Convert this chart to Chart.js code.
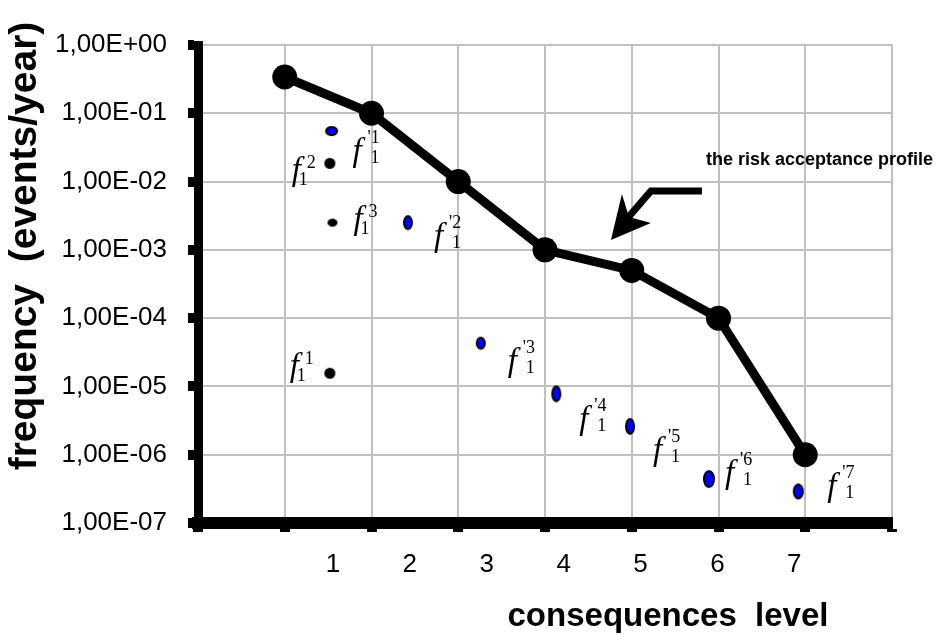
<!DOCTYPE html>
<html lang="en">
<head>
  <meta charset="UTF-8">
  <title>Risk acceptance profile</title>
  <script src="https://cdn.jsdelivr.net/npm/chart.js"></script>
  <style>
    html, body { margin: 0; padding: 0; background: #fff; }
  </style>
</head>
<body>
  <canvas id="riskChart" width="939" height="635"></canvas>

  <script>
    // risk acceptance profile, frequency (events/year) per consequence level
    const levels = [1, 2, 3, 4, 5, 6, 7];
    const profile = [0.34, 0.1, 0.01, 0.001, 0.0005, 0.0001, 0.000001];

    // f1^k frequencies (black dots)
    const fX = [1.52, 1.55, 1.52];
    const fY = [0.0185, 0.0025, 0.0000156];
    const fSup = ['2', '3', '1'];

    // f'1^k frequencies (blue dots)
    const fpX = [1.54, 2.42, 3.26, 4.13, 4.98, 5.89, 6.92];
    const fpY = [0.055, 0.0025, 0.000043, 0.0000078, 0.0000026, 0.00000044, 0.00000029];
    const fpSup = ['1', '2', '3', '4', '5', '6', '7'];

    // axis ticks
    const xLabels = [1, 2, 3, 4, 5, 6, 7];
    const yTicks = [1e-7, 1e-6, 1e-5, 1e-4, 1e-3, 1e-2, 1e-1, 1];
    const yTickText = ['1,00E-07', '1,00E-06', '1,00E-05', '1,00E-04', '1,00E-03', '1,00E-02', '1,00E-01', '1,00E+00'];

    // where the arrow points, in data units
    const arrowAt = { x: 4.76, y: 0.0014 };

    // marker shapes (w, h) and label offsets (px from the dot)
    const fSize = [[11, 11], [10, 8], [11, 11]];
    const fOff = [[-43, 17], [16, 6], [-45, 3]];
    const fpSize = [[13, 10], [10, 15], [10, 13], [10, 17], [10, 17], [12, 18], [11, 16]];
    const fpOff = [[16, 30], [21, 23], [22, 28], [18, 35], [18, 34], [11, 4], [24, 5]];

    const SANS = '"Liberation Sans", Arial, sans-serif';
    const SERIF = '"Liberation Serif", "Times New Roman", serif';
    Chart.defaults.font.family = SANS;
    Chart.defaults.color = '#000';

    function makeDot(w, h, fill, lw) {
      const c = document.createElement('canvas');
      c.width = w + 2; c.height = h + 2;
      const g = c.getContext('2d');
      g.beginPath();
      g.ellipse(c.width / 2, c.height / 2, w / 2 - lw / 2, h / 2 - lw / 2, 0, 0, Math.PI * 2);
      g.fillStyle = fill;
      g.fill();
      if (lw) { g.lineWidth = lw; g.strokeStyle = '#000'; g.stroke(); }
      return c;
    }

    function drawF(ctx, x, y, sup, primed) {
      ctx.fillStyle = '#000';
      ctx.textAlign = 'left';
      ctx.textBaseline = 'alphabetic';
      ctx.font = 'italic 33px ' + SERIF;
      ctx.fillText('f', x + 5, y);
      ctx.font = '18px ' + SERIF;
      if (primed) {
        ctx.fillText("'" + sup, x + 20, y - 18);
        ctx.fillText('1', x + 23, y + 2);
      } else {
        ctx.fillText('1', x + 12, y + 5);
        ctx.fillText(sup, x + 20, y - 12);
      }
    }

    const extras = {
      id: 'extras',
      afterDatasetsDraw(chart) {
        const { ctx, scales } = chart;
        const sx = scales.x, sy = scales.y;
        ctx.save();

        // f labels next to the dots
        fX.forEach((v, i) => {
          const px = sx.getPixelForValue(v), py = sy.getPixelForValue(fY[i]);
          drawF(ctx, px + fOff[i][0], py + fOff[i][1], fSup[i], false);
        });
        fpX.forEach((v, i) => {
          const px = sx.getPixelForValue(v), py = sy.getPixelForValue(fpY[i]);
          drawF(ctx, px + fpOff[i][0], py + fpOff[i][1], fpSup[i], true);
        });

        // arrow + caption
        const tx = sx.getPixelForValue(arrowAt.x), ty = sy.getPixelForValue(arrowAt.y);
        ctx.strokeStyle = '#000';
        ctx.fillStyle = '#000';
        ctx.lineWidth = 7;
        ctx.lineJoin = 'miter';
        ctx.beginPath();
        ctx.moveTo(tx + 91, ty - 49);
        ctx.lineTo(tx + 40, ty - 49);
        ctx.lineTo(tx + 16, ty - 21);
        ctx.stroke();
        ctx.beginPath();
        ctx.moveTo(tx, ty);
        ctx.lineTo(tx + 11, ty - 46);
        ctx.lineTo(tx + 18, ty - 23);
        ctx.lineTo(tx + 40, ty - 17);
        ctx.closePath();
        ctx.fill();

        ctx.font = 'bold 18px ' + SANS;
        ctx.textAlign = 'left';
        ctx.textBaseline = 'alphabetic';
        ctx.fillText('the risk acceptance profile', tx + 95, ty - 75);
        ctx.restore();
      },
      afterDraw(chart) {
        const { ctx } = chart;
        ctx.save();
        ctx.fillStyle = '#000';
        ctx.font = 'bold 33px ' + SANS;
        ctx.textAlign = 'center';
        ctx.textBaseline = 'alphabetic';
        ctx.fillText('consequences  level', 668, 626);

        ctx.translate(25, 246);
        ctx.rotate(-Math.PI / 2);
        ctx.font = 'bold 39px ' + SANS;
        ctx.textBaseline = 'middle';
        ctx.fillText('frequency  (events/year)', 0, 0);
        ctx.restore();
      }
    };

    new Chart(document.getElementById('riskChart'), {
      type: 'scatter',
      data: {
        datasets: [
          {
            label: 'profile',
            data: levels.map((l, i) => ({ x: l, y: profile[i] })),
            showLine: true,
            borderColor: '#000',
            borderWidth: 9,
            backgroundColor: '#000',
            pointRadius: 12.5,
            pointBorderWidth: 0,
            pointBackgroundColor: '#000'
          },
          {
            label: 'f1',
            data: fX.map((v, i) => ({ x: v, y: fY[i] })),
            pointRadius: 6,
            pointStyle: fSize.map(s => makeDot(s[0], s[1], '#000', 0))
          },
          {
            label: "f'1",
            data: fpX.map((v, i) => ({ x: v, y: fpY[i] })),
            pointRadius: 6,
            pointStyle: fpSize.map(s => makeDot(s[0], s[1], '#0000ff', 2))
          }
        ]
      },
      options: {
        responsive: false,
        animation: false,
        devicePixelRatio: 1,
        layout: { autoPadding: false, padding: { top: 45, right: 47, left: 0, bottom: 0 } },
        plugins: { legend: { display: false }, tooltip: { enabled: false } },
        scales: {
          x: {
            type: 'linear',
            position: 'bottom',
            weight: 0,
            min: 0,
            max: 8,
            ticks: { stepSize: 1, display: false },
            grid: { color: '#c0c0c0', lineWidth: 2, tickColor: '#000', tickLength: 9, tickWidth: 10 },
            border: { color: '#000', width: 12 },
            afterFit(s) { s.height = 22; }
          },
          x2: {
            type: 'linear',
            position: 'bottom',
            weight: 1,
            min: -0.754,
            max: 8.27,
            afterBuildTicks(s) { s.ticks = xLabels.map(v => ({ value: v })); },
            ticks: { font: { size: 26 }, padding: 4, callback: v => String(v) },
            grid: { display: false, drawTicks: false },
            border: { display: false },
            afterFit(s) { s.height = 90; }
          },
          y: {
            type: 'logarithmic',
            min: 1e-7,
            max: 1,
            afterBuildTicks(s) { s.ticks = yTicks.map(v => ({ value: v })); },
            ticks: { font: { size: 26 }, padding: 21, callback: (v, i) => yTickText[i] },
            grid: { color: '#c0c0c0', lineWidth: 2, tickColor: '#000', tickLength: 10, tickWidth: 10 },
            border: { color: '#000', width: 9 },
            afterFit(s) { s.width = 198; }
          }
        }
      },
      plugins: [extras]
    });
  </script>
</body>
</html>
